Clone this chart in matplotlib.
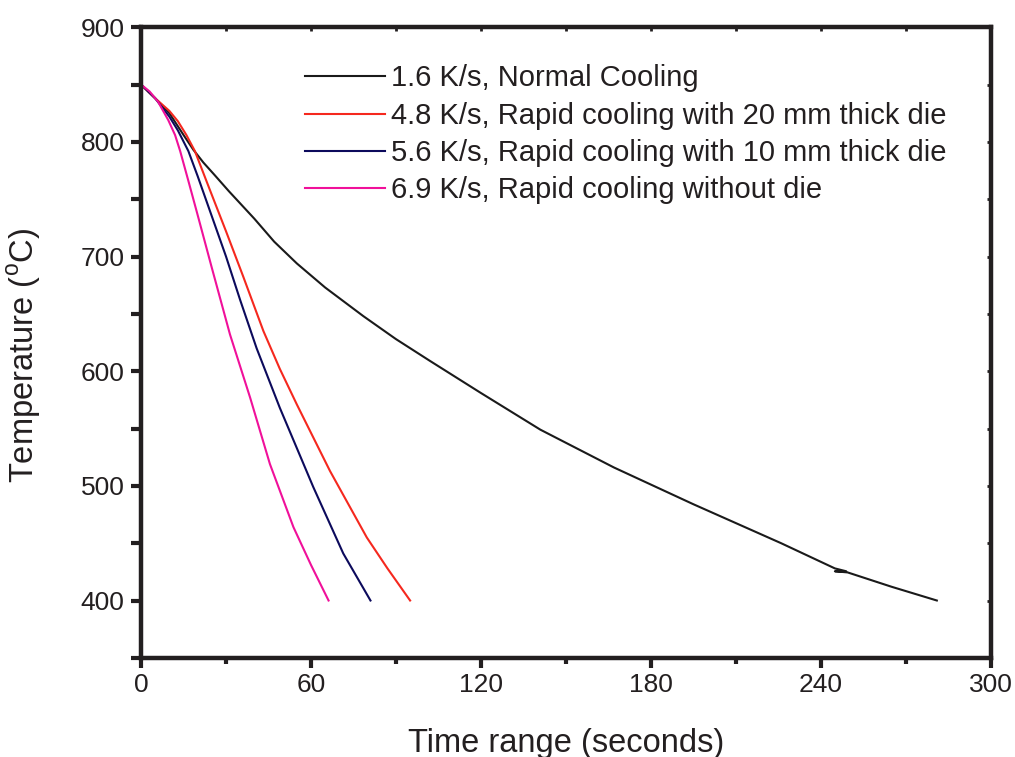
import matplotlib
matplotlib.use('Agg')
import matplotlib.pyplot as plt
import numpy as np
from matplotlib.ticker import MultipleLocator

plt.rcParams['font.family'] = ['Liberation Sans', 'DejaVu Sans']
plt.rcParams['mathtext.fontset'] = 'custom'
plt.rcParams['mathtext.rm'] = 'Liberation Sans'

# cooling curves (time in s, temperature in degC)
t_normal = [0, 5, 10, 15, 18.5, 22, 26, 31, 40, 47, 55, 65, 78.5, 90, 102, 120, 141, 167,
            195, 226, 245, 249, 245, 249.5, 265, 281]
T_normal = [850, 838, 825, 806, 793, 782, 771, 757, 733, 713, 694, 673, 648, 628, 609, 581, 549, 516,
            484, 450, 428, 425.5, 425.5, 424.5, 412, 400]

t_20mm = [0, 5, 10, 13, 16, 19, 24, 30, 36, 43.2, 49, 55, 66.7, 79.7, 87, 95]
T_20mm = [850, 838, 827, 818, 806, 792, 760, 722, 683, 635, 602, 571, 513, 455, 428, 400]

t_10mm = [0, 5, 10, 13, 16.7, 20, 25, 30, 35, 40.8, 49, 60.8, 71.4, 81]
T_10mm = [850, 838, 822, 810, 792, 770, 735, 700, 662, 620, 568, 499, 441, 400]

t_nodie = [0, 3, 6, 9.6, 12, 13.8, 16.7, 20, 25, 31.4, 38.5, 45.5, 53.8, 60, 66.2]
T_nodie = [850, 844, 835, 819, 806, 792, 766, 736, 690, 632, 577, 519, 464, 431, 400]

labels = ['1.6 K/s, Normal Cooling',
          '4.8 K/s, Rapid cooling with 20 mm thick die',
          '5.6 K/s, Rapid cooling with 10 mm thick die',
          '6.9 K/s, Rapid cooling without die']
colors = ['#1a1a1a', '#f5281e', '#0c0a5c', '#f0109a']

fig = plt.figure(figsize=(10.15, 7.57), dpi=100)
ax = fig.add_axes([0.139, 0.131, 0.837, 0.833])

series = [(t_normal, T_normal), (t_20mm, T_20mm), (t_10mm, T_10mm), (t_nodie, T_nodie)]
for (t, T), lab, c in zip(series, labels, colors):
    ax.plot(t, T, color=c, lw=1.5, label=lab)

ax.set_xlim(0, 300)
ax.set_ylim(350, 900)
ax.xaxis.set_major_locator(MultipleLocator(60))
ax.xaxis.set_minor_locator(MultipleLocator(30))
ax.set_yticks(np.arange(400, 901, 100))
ax.set_yticks(np.arange(350, 851, 100), minor=True)

txt = '#231f20'
for s in ax.spines.values():
    s.set_linewidth(3.2)
    s.set_color(txt)
ax.tick_params(axis='both', which='both', direction='out', color=txt,
               labelsize=19, labelcolor=txt, width=3, top=False, right=False)
ax.tick_params(axis='x', which='major', length=7, pad=4)
ax.tick_params(axis='x', which='minor', length=4)
ax.tick_params(axis='y', which='both', length=7, pad=5)

# small inward ticks on top and right spines
for side in ('top', 'right'):
    sec = ax.secondary_xaxis('top') if side == 'top' else ax.secondary_yaxis('right')
    if side == 'top':
        sec.xaxis.set_major_locator(MultipleLocator(30))
        sec.set_xticklabels([])
    else:
        sec.yaxis.set_major_locator(MultipleLocator(50))
        sec.set_yticklabels([])
    sec.tick_params(direction='in', length=3, width=2, color=txt)
    for s in sec.spines.values():
        s.set_visible(False)

ax.set_xlabel('Time range (seconds)', fontsize=23.5, color=txt, labelpad=22)
ax.set_ylabel(r'Temperature ($^{\rm o}$C)', fontsize=23.5, color=txt)
ax.yaxis.set_label_coords(-0.116, 0.48)

leg = ax.legend(loc='upper left', bbox_to_anchor=(0.193, 0.941), frameon=False,
                fontsize=21, handlelength=2.75, handletextpad=0.2, labelspacing=0.32,
                borderpad=0, borderaxespad=0)
for tx in leg.get_texts():
    tx.set_color(txt)

fig.savefig('out.png', dpi=100)
